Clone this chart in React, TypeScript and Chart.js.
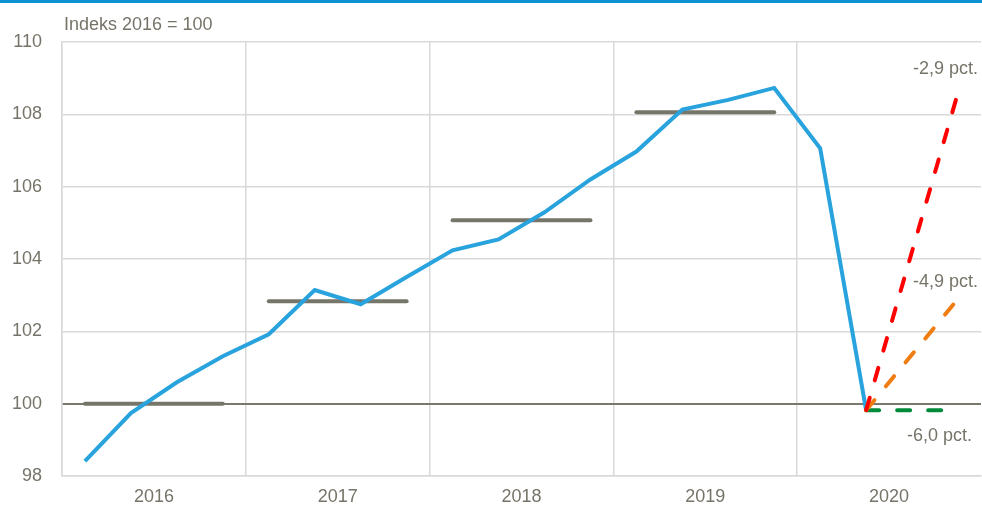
import React, { useEffect, useRef } from "react";
import { Chart, registerables } from "chart.js";
Chart.register(...registerables);

const years = ["2016", "2017", "2018", "2019", "2020"];
const yTicks = [98, 100, 102, 104, 106, 108, 110];
const quarterly = [98.41, 99.74, 100.59, 101.31, 101.92, 103.14, 102.75, 103.5, 104.24, 104.54, 105.29, 106.2, 106.97, 108.13, 108.4, 108.73, 107.06, 99.82];
const annualAvg = [100.0, 102.83, 105.07, 108.06];
const scenarioHigh = [99.82, 108.6];
const scenarioMid = [99.82, 102.9];
const scenarioLow = [99.82, 99.82];
const scenarioLabels = ["-2,9 pct.", "-4,9 pct.", "-6,0 pct."];
const axisTitle = "Indeks 2016 = 100";

const FONT = "'Liberation Sans Narrow', 'Arial Narrow', 'Liberation Sans', Arial, sans-serif";
const TXT = "#767468";

export default function App() {
  const ref = useRef<HTMLCanvasElement>(null);
  useEffect(() => {
    document.body.style.margin = "0";
    const ctx = ref.current!.getContext("2d")!;
    const qPts = quarterly.map((v, i) => ({ x: i + 0.5, y: v }));
    const annualSets = annualAvg.map((v, k) => ({
      type: "line" as const,
      data: [{ x: k * 4 + 0.5, y: v }, { x: k * 4 + 3.5, y: v }],
      borderColor: "#76756a",
      borderWidth: 4,
      borderCapStyle: "round" as const,
      pointRadius: 0,
      order: 2,
    }));
    const scen = (vals: number[], color: string) => ({
      type: "line" as const,
      data: [{ x: 17.5, y: vals[0] }, { x: 19.5, y: vals[1] }],
      borderColor: color,
      borderWidth: 4,
      borderDash: [13, 18],
      borderCapStyle: "round" as const,
      pointRadius: 0,
      order: 0,
    });
    const overlay = {
      id: "overlay",
      afterDraw(chart: any) {
        const c = chart.ctx;
        const ys = chart.scales.y;
        c.save();
        c.fillStyle = "#0a92d2";
        c.fillRect(0, 0, chart.width, 3);
        c.fillStyle = TXT;
        c.font = `18px ${FONT}`;
        c.textBaseline = "middle";
        c.textAlign = "left";
        c.fillText(axisTitle, 64, 25);
        c.textAlign = "right";
        c.fillText(scenarioLabels[0], 978, ys.getPixelForValue(109.25));
        c.fillText(scenarioLabels[1], 978, ys.getPixelForValue(103.36));
        c.fillText(scenarioLabels[2], 972, ys.getPixelForValue(99.1));
        c.restore();
      },
    };
    const chart = new Chart(ctx, {
      type: "line",
      data: {
        datasets: [
          scen(scenarioHigh, "#ff0000"),
          scen(scenarioMid, "#ef7d12"),
          scen(scenarioLow, "#008a3a"),
          {
            type: "line",
            data: qPts,
            borderColor: "#29a3dd",
            borderWidth: 4,
            pointRadius: 0,
            order: 1,
          },
          ...annualSets,
        ] as any,
      },
      plugins: [overlay],
      options: {
        animation: false,
        responsive: false,
        maintainAspectRatio: false,
        layout: { padding: { top: 42, right: 1, left: 0, bottom: 0 } },
        plugins: { legend: { display: false }, tooltip: { enabled: false } },
        scales: {
          x: {
            type: "linear",
            min: 0,
            max: 20,
            afterBuildTicks: (s: any) => {
              s.ticks = [0, 2, 4, 6, 8, 10, 12, 14, 16, 18, 20].map((v) => ({ value: v }));
            },
            afterFit: (s: any) => {
              s.height = 35;
              s.paddingLeft = 0;
              s.paddingRight = 0;
            },
            ticks: {
              autoSkip: false,
              maxRotation: 0,
              padding: 10,
              color: TXT,
              font: { family: FONT, size: 18 },
              callback: (v: any) => (Number(v) % 4 === 2 ? years[(Number(v) - 2) / 4] : ""),
            },
            grid: {
              color: (c: any) =>
                c.tick && c.tick.value % 4 === 0 && c.tick.value < 20 ? "#d9d9d9" : "rgba(0,0,0,0)",
              lineWidth: 1.5,
              drawTicks: false,
            },
            border: { display: true, color: "#d9d9d9", width: 1.5 },
          },
          y: {
            min: 98,
            max: 110,
            afterBuildTicks: (s: any) => { s.ticks = yTicks.map((v) => ({ value: v })); },
            afterFit: (s: any) => {
              s.width = 62;
              s.paddingTop = 0;
              s.paddingBottom = 0;
            },
            ticks: {
              padding: 20,
              color: TXT,
              font: { family: FONT, size: 18 },
              callback: (v: any) => String(v),
            },
            grid: {
              color: (c: any) => (c.tick && c.tick.value === 100 ? "#7a786c" : "#d9d9d9"),
              lineWidth: (c: any) => (c.tick && c.tick.value === 100 ? 2 : 1.5),
              drawTicks: false,
            },
            border: { display: true, color: "#d9d9d9", width: 1.5 },
          },
        },
      },
    });
    return () => chart.destroy();
  }, []);
  return (
    <div style={{ position: "absolute", left: 0, top: 0, width: 982, height: 511, background: "#fff" }}>
      <canvas ref={ref} width={982} height={511} style={{ width: 982, height: 511 }} />
    </div>
  );
}
